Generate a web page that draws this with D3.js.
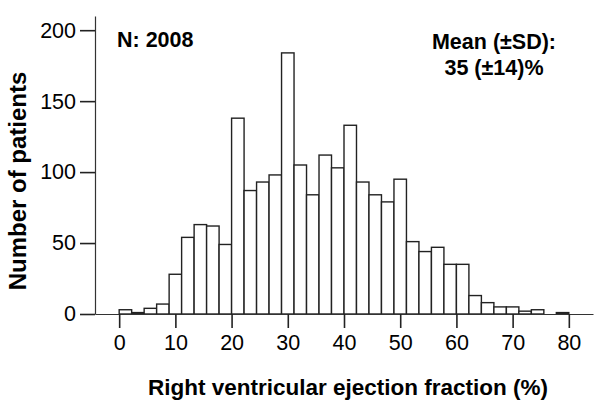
<!DOCTYPE html>
<html>
<head>
<meta charset="utf-8">
<script src="https://cdn.jsdelivr.net/npm/d3@7"></script>
<style>
  html, body { margin: 0; padding: 0; background: #fff; }
  svg { display: block; font-family: "Liberation Sans", Arial, sans-serif; }
</style>
</head>
<body>
<svg id="chart" width="602" height="408"></svg>
<script>
// Histogram: 36 equal bins spanning 0–80 %
const binStart = 0;
const binEnd = 80;
const counts = [3, 1, 4, 7, 28, 54, 63, 62, 49, 138, 87, 93, 98, 184, 105, 84, 112, 103,
                133, 93, 84, 79, 95, 51, 44, 47, 35, 35, 13, 8, 5, 5, 2, 3, 0, 1];
const xTicks = [0, 10, 20, 30, 40, 50, 60, 70, 80];
const yTicks = [0, 50, 100, 150, 200];
const xTitle = "Right ventricular ejection fraction (%)";
const yTitle = "Number of patients";
const noteN = "N: 2008";
const noteMean = ["Mean (\u00B1SD):", "35 (\u00B114)%"];

const svg = d3.select("#chart");
const binW = (binEnd - binStart) / counts.length;
const bins = counts.map((c, i) => ({ x0: binStart + i * binW, x1: binStart + (i + 1) * binW, n: c }));

const x = d3.scaleLinear().domain([-4.3, 84.3]).range([95, 593]);
const y = d3.scaleLinear().domain([0, 210]).range([314, 16]);

// bars
svg.append("g").selectAll("rect").data(bins.filter(d => d.n > 0)).join("rect")
  .attr("x", d => x(d.x0))
  .attr("width", d => x(d.x1) - x(d.x0))
  .attr("y", d => y(d.n))
  .attr("height", d => y(0) - y(d.n))
  .attr("fill", "#fff")
  .attr("stroke", "#222")
  .attr("stroke-width", 1.4);

// axes
const gx = svg.append("g").attr("transform", `translate(0,${y(0)})`)
  .call(d3.axisBottom(x).tickValues(xTicks).tickSize(14).tickSizeOuter(0).tickPadding(7));
const gy = svg.append("g").attr("transform", `translate(${x.range()[0]},0)`)
  .call(d3.axisLeft(y).tickValues(yTicks).tickSize(15).tickSizeOuter(0).tickPadding(4));
[gx, gy].forEach(g => {
  g.select(".domain").attr("stroke", "#333").attr("stroke-width", 1.2);
  g.selectAll(".tick line").attr("stroke", "#222").attr("stroke-width", 1.6);
  g.selectAll(".tick text").attr("fill", "#000")
    .style("font-family", "'Liberation Sans', Arial, sans-serif").style("font-size", "21.5px");
});

// titles
svg.append("text").attr("x", 348).attr("y", 395).attr("text-anchor", "middle")
  .style("font-size", "22.5px").style("font-weight", "bold").text(xTitle);
svg.append("text").attr("transform", "translate(26,181) rotate(-90)").attr("text-anchor", "middle")
  .style("font-size", "24px").style("font-weight", "bold").text(yTitle);

// annotations
svg.append("text").attr("x", 117).attr("y", 47)
  .style("font-size", "21.5px").style("font-weight", "bold").text(noteN);
svg.append("text").attr("x", 494).attr("y", 49).attr("text-anchor", "middle")
  .style("font-size", "21.5px").style("font-weight", "bold").text(noteMean[0]);
svg.append("text").attr("x", 494).attr("y", 75).attr("text-anchor", "middle")
  .style("font-size", "21.5px").style("font-weight", "bold").text(noteMean[1]);
</script>
</body>
</html>
